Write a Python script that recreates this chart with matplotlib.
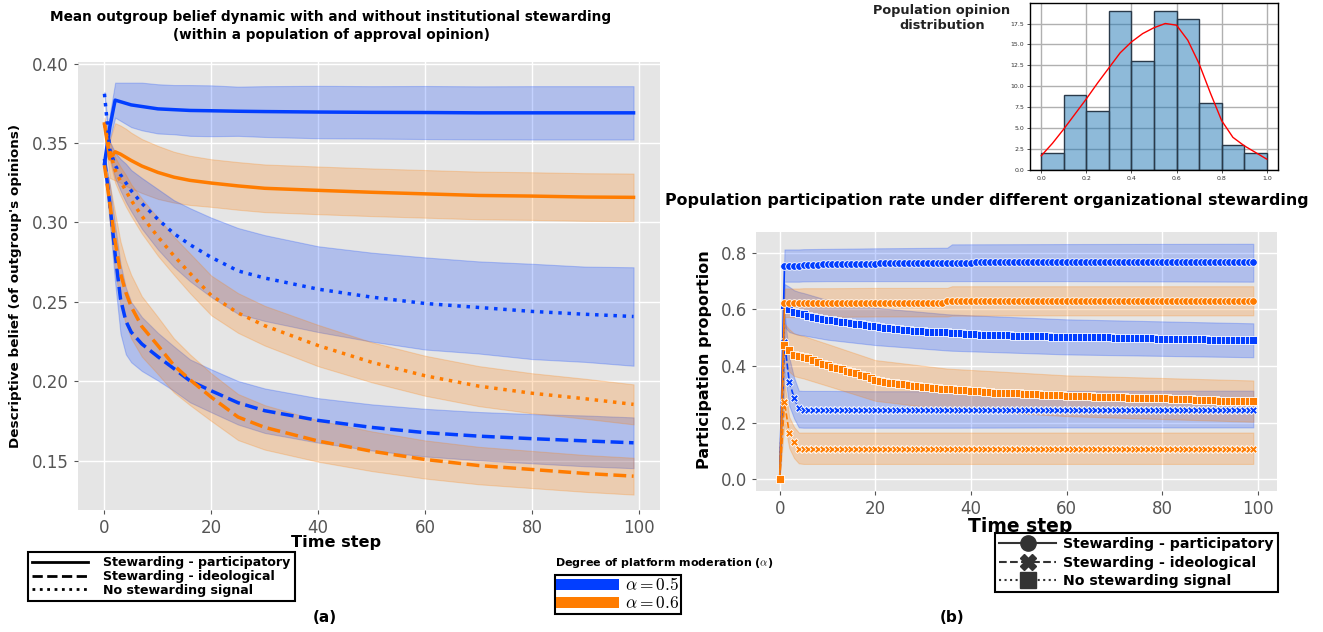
import matplotlib
matplotlib.use("Agg")
import matplotlib.pyplot as plt
from matplotlib.lines import Line2D
from matplotlib.patches import Patch

plt.rcParams['font.family'] = ['DejaVu Sans']
plt.rcParams['mathtext.fontset'] = 'cm'

BLUE = '#023eff'
ORANGE = '#ff7c00'

# ---------------- panel (a): mean outgroup belief ----------------
t_a = [0, 1, 2, 3, 4, 5, 7, 10, 13, 16, 20, 25, 30, 40, 50, 60, 70, 80, 90, 99]

part_a05 = [0.337, 0.360, 0.377, 0.376, 0.375, 0.374, 0.373, 0.3715, 0.371, 0.3705,
            0.3703, 0.370, 0.3698, 0.3695, 0.3693, 0.3692, 0.369, 0.369, 0.369, 0.369]
part_a05_ci = [0.004, 0.008, 0.011, 0.012, 0.013, 0.014, 0.015, 0.0155, 0.0155, 0.016,
               0.016, 0.0155, 0.016, 0.0165, 0.0165, 0.0167, 0.0167, 0.0168, 0.0168, 0.0168]
part_a06 = [0.362, 0.340, 0.3445, 0.343, 0.341, 0.339, 0.3355, 0.3315, 0.3285, 0.3265,
            0.3248, 0.323, 0.3215, 0.3202, 0.319, 0.318, 0.317, 0.3166, 0.316, 0.3158]
part_a06_ci = [0.004, 0.012, 0.018, 0.018, 0.018, 0.0175, 0.017, 0.0167, 0.016, 0.0155,
               0.015, 0.015, 0.015, 0.015, 0.015, 0.015, 0.015, 0.015, 0.015, 0.015]
nost_a05 = [0.381, 0.346, 0.336, 0.330, 0.325, 0.320, 0.312, 0.302, 0.293, 0.286,
            0.278, 0.2695, 0.265, 0.258, 0.253, 0.249, 0.2465, 0.244, 0.2422, 0.2408]
nost_a05_ci = [0.001, 0.005, 0.008, 0.010, 0.012, 0.013, 0.016, 0.019, 0.021, 0.023,
               0.025, 0.027, 0.027, 0.027, 0.028, 0.029, 0.029, 0.030, 0.030, 0.031]
nost_a06 = [0.362, 0.345, 0.333, 0.326, 0.320, 0.314, 0.304, 0.291, 0.279, 0.268,
            0.254, 0.243, 0.235, 0.2225, 0.212, 0.2035, 0.197, 0.1925, 0.189, 0.1855]
nost_a06_ci = [0.002, 0.006, 0.008, 0.009, 0.010, 0.010, 0.011, 0.012, 0.012, 0.0125,
               0.0125, 0.0125, 0.0125, 0.013, 0.0126, 0.0126, 0.0126, 0.0126, 0.0126, 0.0126]
ideo_a05 = [0.340, 0.312, 0.280, 0.252, 0.238, 0.231, 0.2235, 0.2155, 0.208, 0.2003,
            0.194, 0.1865, 0.1815, 0.1754, 0.171, 0.1677, 0.1655, 0.1639, 0.1625, 0.1613]
ideo_a05_ci = [0.003, 0.012, 0.018, 0.022, 0.021, 0.019, 0.017, 0.015, 0.014, 0.0135,
               0.0135, 0.0137, 0.014, 0.014, 0.0145, 0.015, 0.0152, 0.0155, 0.016, 0.016]
ideo_a06 = [0.336, 0.312, 0.288, 0.268, 0.256, 0.247, 0.2345, 0.2225, 0.210, 0.201,
            0.190, 0.1775, 0.171, 0.1624, 0.156, 0.1508, 0.147, 0.1445, 0.142, 0.1403]
ideo_a06_ci = [0.003, 0.012, 0.018, 0.020, 0.020, 0.020, 0.019, 0.018, 0.017, 0.016,
               0.015, 0.0145, 0.014, 0.013, 0.0125, 0.012, 0.0118, 0.0117, 0.0116, 0.0116]

# ---------------- panel (b): participation rate ----------------
t_b = list(range(100))

part_b05 = ([0.0] + [0.755] * 4 + [0.757] * 4 + [0.759] * 6 + [0.761] * 6 + [0.763] * 10
            + [0.765] * 10 + [0.766] * 30 + [0.767] * 29)
part_b06 = [0.0] + [0.621] * 6 + [0.623] * 10 + [0.624] * 18 + [0.629] * 10 + [0.630] * 55
ideo_b05 = [0.0, 0.485, 0.345, 0.288, 0.250] + [0.246] * 95
ideo_b06 = [0.0, 0.272, 0.163, 0.130] + [0.108] * 96
nost_b05 = [0.0, 0.615, 0.600, 0.592, 0.587, 0.583, 0.578, 0.574, 0.570, 0.566,
            0.563, 0.561, 0.558, 0.556, 0.554, 0.552, 0.550, 0.548, 0.546, 0.543,
            0.540, 0.538, 0.536, 0.534, 0.532, 0.530, 0.528, 0.526, 0.525, 0.524,
            0.523, 0.522, 0.521, 0.520, 0.520, 0.519, 0.518, 0.516, 0.515, 0.514,
            0.513, 0.512, 0.511, 0.511, 0.510, 0.509, 0.509, 0.508, 0.508, 0.507,
            0.507, 0.506, 0.506, 0.506, 0.505, 0.505, 0.505, 0.504, 0.504, 0.504,
            0.503, 0.503, 0.503, 0.503, 0.502, 0.502, 0.502, 0.502, 0.501, 0.501,
            0.500, 0.500, 0.499, 0.499, 0.499, 0.499, 0.498, 0.498, 0.498, 0.497,
            0.497, 0.497, 0.496, 0.496, 0.496, 0.495, 0.495, 0.495, 0.494, 0.494,
            0.493, 0.493, 0.493, 0.492, 0.492, 0.492, 0.491, 0.491, 0.491, 0.491]
nost_b06 = [0.0, 0.476, 0.455, 0.440, 0.434, 0.431, 0.427, 0.423, 0.415, 0.408,
            0.403, 0.397, 0.393, 0.388, 0.383, 0.379, 0.375, 0.370, 0.366, 0.357,
            0.349, 0.346, 0.343, 0.341, 0.339, 0.337, 0.335, 0.333, 0.331, 0.329,
            0.327, 0.325, 0.323, 0.321, 0.320, 0.319, 0.318, 0.316, 0.315, 0.314,
            0.313, 0.311, 0.310, 0.308, 0.307, 0.306, 0.305, 0.305, 0.304, 0.303,
            0.303, 0.302, 0.302, 0.301, 0.300, 0.299, 0.299, 0.298, 0.297, 0.296,
            0.295, 0.295, 0.294, 0.294, 0.293, 0.293, 0.292, 0.291, 0.291, 0.290,
            0.290, 0.289, 0.289, 0.288, 0.288, 0.288, 0.287, 0.287, 0.287, 0.286,
            0.286, 0.286, 0.285, 0.285, 0.284, 0.283, 0.282, 0.281, 0.280, 0.280,
            0.279, 0.279, 0.278, 0.278, 0.277, 0.277, 0.277, 0.276, 0.276, 0.276]

band_t = [0, 1, 2, 3, 4, 5, 10, 20, 35, 36, 60, 99]
part_b05_lo = [0, 0.698, 0.698, 0.698, 0.698, 0.699, 0.700, 0.700, 0.700, 0.700, 0.700, 0.698]
part_b05_hi = [0, 0.812, 0.812, 0.812, 0.812, 0.813, 0.814, 0.816, 0.818, 0.830, 0.831, 0.832]
part_b06_lo = [0, 0.573, 0.573, 0.573, 0.573, 0.574, 0.574, 0.575, 0.575, 0.578, 0.579, 0.579]
part_b06_hi = [0, 0.674, 0.674, 0.674, 0.674, 0.675, 0.675, 0.676, 0.676, 0.682, 0.682, 0.682]
ideo_b05_lo = [0, 0.38, 0.26, 0.215, 0.183, 0.182, 0.182, 0.182, 0.182, 0.182, 0.183, 0.183]
ideo_b05_hi = [0, 0.59, 0.43, 0.36, 0.313, 0.312, 0.312, 0.311, 0.311, 0.311, 0.312, 0.313]
ideo_b06_lo = [0, 0.20, 0.11, 0.075, 0.056, 0.054, 0.054, 0.054, 0.054, 0.054, 0.054, 0.054]
ideo_b06_hi = [0, 0.34, 0.22, 0.185, 0.165, 0.165, 0.165, 0.165, 0.165, 0.165, 0.165, 0.165]
nost_b05_lo = [0, 0.54, 0.52, 0.515, 0.51, 0.508, 0.493, 0.474, 0.455, 0.454, 0.441, 0.431]
nost_b05_hi = [0, 0.69, 0.68, 0.668, 0.662, 0.658, 0.633, 0.606, 0.583, 0.582, 0.565, 0.551]
nost_b06_lo = [0, 0.40, 0.38, 0.365, 0.36, 0.356, 0.33, 0.277, 0.247, 0.246, 0.223, 0.203]
nost_b06_hi = [0, 0.55, 0.53, 0.515, 0.51, 0.506, 0.478, 0.421, 0.391, 0.390, 0.367, 0.349]

# ---------------- inset: opinion histogram ----------------
bin_left = [0.0, 0.1, 0.2, 0.3, 0.4, 0.5, 0.6, 0.7, 0.8, 0.9]
bin_count = [2, 9, 7, 19, 13, 19, 18, 8, 3, 2]
kde_x = [0.0, 0.05, 0.1, 0.15, 0.2, 0.25, 0.3, 0.35, 0.4, 0.45, 0.5, 0.55,
         0.6, 0.65, 0.7, 0.75, 0.8, 0.85, 0.9, 0.95, 1.0]
kde_y = [1.7, 3.2, 4.9, 6.7, 8.5, 10.4, 12.2, 14.0, 15.3, 16.3, 17.0, 17.5,
         17.3, 15.5, 12.7, 9.2, 5.9, 3.9, 2.9, 2.1, 1.3]

W, H = 1323, 632
fig = plt.figure(figsize=(W / 100, H / 100), dpi=100)


def gg(ax, size):
    ax.set_facecolor('#E5E5E5')
    ax.grid(True, color='white', lw=1)
    ax.set_axisbelow(True)
    for s in ax.spines.values():
        s.set_visible(False)
    ax.tick_params(colors='#555555', labelsize=size, length=3, width=0.8)


def fx(px):
    return px / W


def fy(py):
    return 1 - py / H


# panel (a)
ax1 = fig.add_axes([fx(78), fy(510), fx(660 - 78), (510 - 62) / H])
gg(ax1, 12)
series_a = [
    (part_a05, part_a05_ci, BLUE, '-'), (part_a06, part_a06_ci, ORANGE, '-'),
    (ideo_a05, ideo_a05_ci, BLUE, '--'), (ideo_a06, ideo_a06_ci, ORANGE, '--'),
    (nost_a05, nost_a05_ci, BLUE, ':'), (nost_a06, nost_a06_ci, ORANGE, ':'),
]
for m, ci, c, ls in series_a:
    lo = [a - b for a, b in zip(m, ci)]
    hi = [a + b for a, b in zip(m, ci)]
    ax1.fill_between(t_a, lo, hi, color=c, alpha=0.23, lw=0.8)
for m, ci, c, ls in series_a:
    ax1.plot(t_a, m, color=c, ls=ls, lw=2.5)
ax1.set_ylim(0.119, 0.401)
ax1.set_xticks([0, 20, 40, 60, 80, 100])

# panel (b)
ax2 = fig.add_axes([fx(756), fy(491), fx(1277 - 756), (491 - 232) / H])
gg(ax2, 12)
series_b = [
    (part_b05, part_b05_lo, part_b05_hi, BLUE, '-', 'o'),
    (ideo_b05, ideo_b05_lo, ideo_b05_hi, BLUE, '--', 'X'),
    (nost_b05, nost_b05_lo, nost_b05_hi, BLUE, ':', 's'),
    (part_b06, part_b06_lo, part_b06_hi, ORANGE, '-', 'o'),
    (ideo_b06, ideo_b06_lo, ideo_b06_hi, ORANGE, '--', 'X'),
    (nost_b06, nost_b06_lo, nost_b06_hi, ORANGE, ':', 's'),
]
for m, lo, hi, c, ls, mk in series_b:
    ax2.fill_between(band_t, lo, hi, color=c, alpha=0.23, lw=0.8)
for m, lo, hi, c, ls, mk in series_b:
    ax2.plot(t_b, m, color=c, ls=ls, lw=1.2, marker=mk, ms=5.5,
             mec='white', mew=0.6)
ax2.set_xticks([0, 20, 40, 60, 80, 100])

# inset histogram
ax3 = fig.add_axes([fx(1030), fy(170), fx(1278 - 1030), (170 - 3) / H])
ax3.set_facecolor('white')
ax3.grid(True, color='#b0b0b0', lw=1)
ax3.set_axisbelow(True)
ax3.bar(bin_left, bin_count, width=0.1, align='edge',
        facecolor=(0.122, 0.467, 0.706, 0.5), edgecolor='#2a3a4a', lw=1)
ax3.plot(kde_x, kde_y, color='red', lw=1)
ax3.set_xlim(-0.05, 1.05)
ax3.set_ylim(0, 19.95)
ax3.set_xticks([0.0, 0.2, 0.4, 0.6, 0.8, 1.0])
ax3.set_yticks([0.0, 2.5, 5.0, 7.5, 10.0, 12.5, 15.0, 17.5])
ax3.tick_params(labelsize=4.5, length=2, width=0.6, pad=2, colors='#333333')
for s in ax3.spines.values():
    s.set_color('black')
    s.set_linewidth(1)

# texts
fig.text(fx(331), fy(26), 'Mean outgroup belief dynamic with and without institutional stewarding\n'
         '(within a population of approval opinion)', ha='center', va='center',
         fontsize=9.8, fontweight='bold', linespacing=1.35)
fig.text(fx(987), fy(200), 'Population participation rate under different organizational stewarding',
         ha='center', va='center', fontsize=11.4, fontweight='bold')
fig.text(fx(942), fy(18), 'Population opinion\ndistribution', ha='center', va='center',
         fontsize=9.3, fontweight='bold', linespacing=1.15, color='#222222')
fig.text(fx(16), fy(286), "Descriptive belief (of outgroup's opinions)", rotation=90,
         ha='center', va='center', fontsize=9.7, fontweight='bold')
fig.text(fx(336), fy(543), 'Time step', ha='center', va='center', fontsize=11.6, fontweight='bold')
fig.text(fx(705), fy(360), 'Participation proportion', rotation=90,
         ha='center', va='center', fontsize=11.5, fontweight='bold')
fig.text(fx(1020), fy(526), 'Time step', ha='center', va='center', fontsize=13.5, fontweight='bold')
fig.text(fx(325), fy(618), '(a)', ha='center', va='center', fontsize=11, fontweight='bold')
fig.text(fx(952), fy(618), '(b)', ha='center', va='center', fontsize=11, fontweight='bold')
fig.text(fx(555), fy(563), r'Degree of platform moderation ($\alpha$)', ha='left', va='center',
         fontsize=8, fontweight='bold')

# legends
style_labels = ['Stewarding - participatory', 'Stewarding - ideological', 'No stewarding signal']
h1 = [Line2D([], [], color='black', ls=ls, lw=2) for ls in ['-', '--', ':']]
leg1 = fig.legend(h1, style_labels, loc='upper left', bbox_to_anchor=(fx(28), fy(552)),
                  prop={'weight': 'bold', 'size': 9.1}, handlelength=4.4, borderpad=0.35,
                  labelspacing=0.05, fancybox=False, framealpha=1, edgecolor='black',
                  borderaxespad=0, handletextpad=1.2)
leg1.get_frame().set_linewidth(1.5)

h2 = [Patch(facecolor=BLUE), Patch(facecolor=ORANGE)]
leg2 = fig.legend(h2, [r'$\alpha = 0.5$', r'$\alpha = 0.6$'], loc='upper left',
                  bbox_to_anchor=(fx(555), fy(575)), fontsize=12.5, handlelength=3.6,
                  handleheight=0.62, borderpad=0.08, labelspacing=0.0, fancybox=False,
                  framealpha=1, edgecolor='black', borderaxespad=0, handletextpad=0.35)
leg2.get_frame().set_linewidth(1.5)

h3 = [Line2D([], [], color='#333333', ls=ls, lw=1.5, marker=mk, ms=11)
      for ls, mk in [('-', 'o'), ('--', 'X'), (':', 's')]]
leg3 = fig.legend(h3, style_labels, loc='upper left', bbox_to_anchor=(fx(995), fy(533)),
                  prop={'weight': 'bold', 'size': 10.2}, handlelength=4.0, borderpad=0.3,
                  labelspacing=0.3, fancybox=False, framealpha=1, edgecolor='black',
                  borderaxespad=0, handletextpad=0.5)
leg3.get_frame().set_linewidth(1.5)

fig.savefig('out.png', dpi=100)
